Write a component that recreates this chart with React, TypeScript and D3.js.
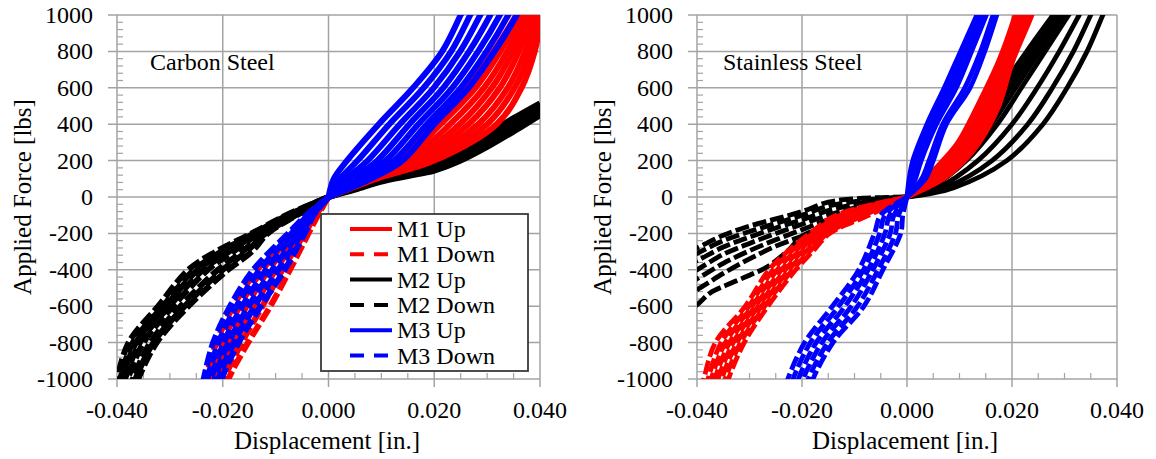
import React from "react";
import * as d3 from "d3";

type Pt = [number, number];

/* ---------- Carbon Steel (left) : [displacement in., force lbs] ---------- */
const CS_M1_UP: Pt[][] = [
  [[0, 0], [0.006, 100], [0.013, 200], [0.0195, 400], [0.0262, 600], [0.0312, 800], [0.0355, 1000], [0.0365, 1060]],
  [[0, 0], [0.0064, 100], [0.014, 200], [0.0212, 400], [0.0278, 600], [0.0325, 800], [0.0363, 1000], [0.0372, 1060]],
  [[0, 0], [0.0068, 100], [0.015, 200], [0.023, 400], [0.0294, 600], [0.0338, 800], [0.0371, 1000], [0.0379, 1060]],
  [[0, 0], [0.0072, 100], [0.0158, 200], [0.0248, 400], [0.0309, 600], [0.0349, 800], [0.0379, 1000], [0.0386, 1060]],
  [[0, 0], [0.0076, 100], [0.0167, 200], [0.0265, 400], [0.0324, 600], [0.036, 800], [0.0386, 1000], [0.0392, 1060]],
  [[0, 0], [0.008, 100], [0.0177, 200], [0.0283, 400], [0.0339, 600], [0.0372, 800], [0.0393, 1000], [0.0398, 1060]],
  [[0, 0], [0.0085, 100], [0.0188, 200], [0.03, 400], [0.0352, 600], [0.0382, 800], [0.0399, 1000], [0.0404, 1060]],
  [[0, 0], [0.009, 100], [0.02, 200], [0.0318, 400], [0.0365, 600], [0.039, 800], [0.0403, 1000], [0.0408, 1060]],
];
const CS_M1_DOWN: Pt[][] = [
  [[0, 0], [-0.004, -100], [-0.0072, -200], [-0.0135, -400], [-0.018, -600], [-0.0212, -800], [-0.0232, -1000], [-0.0236, -1060]],
  [[0, 0], [-0.0036, -100], [-0.0066, -200], [-0.0125, -400], [-0.0168, -600], [-0.02, -800], [-0.0223, -1000], [-0.0227, -1060]],
  [[0, 0], [-0.0032, -100], [-0.0059, -200], [-0.0113, -400], [-0.0155, -600], [-0.0188, -800], [-0.0214, -1000], [-0.0218, -1060]],
  [[0, 0], [-0.0028, -100], [-0.0052, -200], [-0.01, -400], [-0.014, -600], [-0.0176, -800], [-0.0205, -1000], [-0.0209, -1060]],
  [[0, 0], [-0.0024, -100], [-0.0045, -200], [-0.0087, -400], [-0.0125, -600], [-0.0164, -800], [-0.0197, -1000], [-0.0201, -1060]],
  [[0, 0], [-0.002, -100], [-0.0038, -200], [-0.0073, -400], [-0.011, -600], [-0.0152, -800], [-0.0189, -1000], [-0.0193, -1060]],
];
const CS_M2_UP: Pt[][] = [
  [[0, 0], [0.005, 40], [0.01, 85], [0.015, 115], [0.02, 145], [0.025, 200], [0.03, 275], [0.035, 360], [0.04, 450]],
  [[0, 0], [0.005, 45], [0.01, 92], [0.015, 126], [0.02, 160], [0.025, 215], [0.03, 290], [0.035, 378], [0.04, 466]],
  [[0, 0], [0.005, 50], [0.01, 100], [0.015, 138], [0.02, 176], [0.025, 233], [0.03, 308], [0.035, 398], [0.04, 484]],
  [[0, 0], [0.005, 55], [0.01, 108], [0.015, 150], [0.02, 193], [0.025, 252], [0.03, 326], [0.035, 416], [0.04, 500]],
  [[0, 0], [0.005, 60], [0.01, 118], [0.015, 165], [0.02, 212], [0.025, 272], [0.03, 345], [0.035, 433], [0.04, 515]],
];
const CS_M2_DOWN: Pt[][] = [
  [[0, 0], [-0.008, -100], [-0.0145, -200], [-0.0213, -300], [-0.0265, -400], [-0.0322, -600], [-0.0378, -800], [-0.04, -1000], [-0.0405, -1050]],
  [[0, 0], [-0.0077, -100], [-0.0141, -200], [-0.0203, -300], [-0.0254, -400], [-0.0313, -600], [-0.037, -800], [-0.0394, -1000], [-0.04, -1050]],
  [[0, 0], [-0.0075, -100], [-0.0138, -200], [-0.0197, -300], [-0.0247, -400], [-0.0308, -600], [-0.0364, -800], [-0.039, -1000], [-0.0396, -1050]],
  [[0, 0], [-0.0072, -100], [-0.0134, -200], [-0.0188, -300], [-0.0237, -400], [-0.0301, -600], [-0.0357, -800], [-0.0385, -1000], [-0.0391, -1050]],
  [[0, 0], [-0.007, -100], [-0.0131, -200], [-0.018, -300], [-0.0228, -400], [-0.0294, -600], [-0.035, -800], [-0.038, -1000], [-0.0386, -1050]],
  [[0, 0], [-0.0065, -100], [-0.0123, -200], [-0.0163, -300], [-0.0209, -400], [-0.028, -600], [-0.0337, -800], [-0.037, -1000], [-0.0376, -1050]],
  [[0, 0], [-0.0062, -100], [-0.0119, -200], [-0.0155, -300], [-0.02, -400], [-0.0272, -600], [-0.0331, -800], [-0.0365, -1000], [-0.0371, -1050]],
  [[0, 0], [-0.006, -100], [-0.0115, -200], [-0.0145, -300], [-0.019, -400], [-0.0265, -600], [-0.0325, -800], [-0.036, -1000], [-0.0366, -1050]],
];
const CS_M3_UP: Pt[][] = [
  [[0, 0], [0.001, 100], [0.0035, 200], [0.0095, 400], [0.016, 600], [0.0215, 800], [0.025, 1000], [0.026, 1060]],
  [[0, 0], [0.0022, 100], [0.0055, 200], [0.0115, 400], [0.018, 600], [0.0232, 800], [0.0268, 1000], [0.0278, 1060]],
  [[0, 0], [0.0034, 100], [0.0074, 200], [0.0135, 400], [0.0199, 600], [0.0249, 800], [0.0287, 1000], [0.0297, 1060]],
  [[0, 0], [0.0046, 100], [0.0092, 200], [0.0153, 400], [0.0217, 600], [0.0266, 800], [0.0306, 1000], [0.0316, 1060]],
  [[0, 0], [0.0058, 100], [0.0108, 200], [0.017, 400], [0.0234, 600], [0.0283, 800], [0.0324, 1000], [0.0334, 1060]],
  [[0, 0], [0.0069, 100], [0.0124, 200], [0.0186, 400], [0.025, 600], [0.0299, 800], [0.034, 1000], [0.035, 1060]],
  [[0, 0], [0.008, 100], [0.014, 200], [0.02, 400], [0.0265, 600], [0.0314, 800], [0.0356, 1000], [0.0366, 1060]],
];
const CS_M3_DOWN: Pt[][] = [
  [[0, 0], [-0.0042, -100], [-0.0076, -200], [-0.0142, -400], [-0.0186, -600], [-0.0218, -800], [-0.0236, -1000], [-0.024, -1060]],
  [[0, 0], [-0.0039, -100], [-0.007, -200], [-0.013, -400], [-0.0174, -600], [-0.0208, -800], [-0.0229, -1000], [-0.0233, -1060]],
  [[0, 0], [-0.0036, -100], [-0.0064, -200], [-0.0118, -400], [-0.0163, -600], [-0.0198, -800], [-0.0222, -1000], [-0.0226, -1060]],
  [[0, 0], [-0.0033, -100], [-0.0057, -200], [-0.0106, -400], [-0.0151, -600], [-0.0189, -800], [-0.0215, -1000], [-0.0219, -1060]],
  [[0, 0], [-0.003, -100], [-0.0051, -200], [-0.0095, -400], [-0.014, -600], [-0.0179, -800], [-0.0208, -1000], [-0.0212, -1060]],
  [[0, 0], [-0.0028, -100], [-0.0045, -200], [-0.0083, -400], [-0.0128, -600], [-0.017, -800], [-0.0202, -1000], [-0.0206, -1060]],
];

/* ---------- Stainless Steel (right) ---------- */
const SS_M1_UP: Pt[][] = [
  [[0, 0], [0.0035, 100], [0.0068, 200], [0.0097, 300], [0.0134, 500], [0.0175, 750], [0.0206, 1000], [0.0212, 1060]],
  [[0, 0], [0.004, 100], [0.0074, 200], [0.0103, 300], [0.014, 500], [0.0179, 750], [0.0211, 1000], [0.0217, 1060]],
  [[0, 0], [0.0045, 100], [0.008, 200], [0.0109, 300], [0.0146, 500], [0.0183, 750], [0.0215, 1000], [0.0221, 1060]],
  [[0, 0], [0.005, 100], [0.0086, 200], [0.0115, 300], [0.0152, 500], [0.0187, 750], [0.022, 1000], [0.0226, 1060]],
  [[0, 0], [0.0055, 100], [0.0092, 200], [0.0121, 300], [0.0158, 500], [0.0191, 750], [0.0224, 1000], [0.023, 1060]],
  [[0, 0], [0.006, 100], [0.0098, 200], [0.0127, 300], [0.0164, 500], [0.0195, 750], [0.0229, 1000], [0.0235, 1060]],
  [[0, 0], [0.0065, 100], [0.0104, 200], [0.0133, 300], [0.017, 500], [0.0199, 750], [0.0234, 1000], [0.024, 1060]],
  [[0, 0], [0.007, 100], [0.011, 200], [0.0138, 300], [0.0175, 500], [0.0202, 750], [0.0238, 1000], [0.0244, 1060]],
];
const SS_M1_DOWN: Pt[][] = [
  [[0, 0], [-0.0135, -100], [-0.0185, -200], [-0.0228, -300], [-0.0263, -400], [-0.0308, -600], [-0.0365, -800], [-0.0387, -1000], [-0.0392, -1060]],
  [[0, 0], [-0.0127, -100], [-0.0179, -200], [-0.0221, -300], [-0.0255, -400], [-0.0301, -600], [-0.0354, -800], [-0.0379, -1000], [-0.0384, -1060]],
  [[0, 0], [-0.0118, -100], [-0.0173, -200], [-0.0214, -300], [-0.0247, -400], [-0.0295, -600], [-0.0346, -800], [-0.0373, -1000], [-0.0378, -1060]],
  [[0, 0], [-0.011, -100], [-0.0167, -200], [-0.0207, -300], [-0.0239, -400], [-0.0289, -600], [-0.0338, -800], [-0.0366, -1000], [-0.0371, -1060]],
  [[0, 0], [-0.0101, -100], [-0.0161, -200], [-0.02, -300], [-0.0232, -400], [-0.0283, -600], [-0.0331, -800], [-0.036, -1000], [-0.0365, -1060]],
  [[0, 0], [-0.0092, -100], [-0.0156, -200], [-0.0193, -300], [-0.0225, -400], [-0.0277, -600], [-0.0324, -800], [-0.0353, -1000], [-0.0358, -1060]],
  [[0, 0], [-0.0082, -100], [-0.0151, -200], [-0.0186, -300], [-0.0218, -400], [-0.0271, -600], [-0.0317, -800], [-0.0346, -1000], [-0.0351, -1060]],
  [[0, 0], [-0.0072, -100], [-0.0147, -200], [-0.018, -300], [-0.0212, -400], [-0.0265, -600], [-0.031, -800], [-0.034, -1000], [-0.0345, -1060]],
];
const SS_M2_UP: Pt[][] = [
  [[0, 0], [0.0022, 50], [0.0078, 200], [0.0134, 400], [0.018, 600], [0.0228, 800], [0.0278, 1000], [0.0293, 1060]],
  [[0, 0], [0.0027, 50], [0.0086, 200], [0.0142, 400], [0.0188, 600], [0.0236, 800], [0.0284, 1000], [0.0298, 1060]],
  [[0, 0], [0.0032, 50], [0.0094, 200], [0.0151, 400], [0.0197, 600], [0.0244, 800], [0.0291, 1000], [0.0305, 1060]],
  [[0, 0], [0.0038, 50], [0.0103, 200], [0.0161, 400], [0.0207, 600], [0.0253, 800], [0.0299, 1000], [0.0313, 1060]],
  [[0, 0], [0.0045, 50], [0.0113, 200], [0.0172, 400], [0.0218, 600], [0.0263, 800], [0.0308, 1000], [0.0321, 1060]],
  [[0, 0], [0.0058, 50], [0.0135, 200], [0.02, 400], [0.0248, 600], [0.029, 800], [0.0328, 1000], [0.0339, 1060]],
  [[0, 0], [0.0072, 50], [0.0162, 200], [0.023, 400], [0.0277, 600], [0.0317, 800], [0.035, 1000], [0.036, 1060]],
  [[0, 0], [0.0088, 50], [0.019, 200], [0.0259, 400], [0.0305, 600], [0.0343, 800], [0.0373, 1000], [0.0382, 1060]],
];
const SS_M2_DOWN: Pt[][] = [
  [[0, 0], [-0.005, -3], [-0.01, -10], [-0.015, -28], [-0.02, -80], [-0.025, -120], [-0.03, -160], [-0.035, -210], [-0.04, -280], [-0.042, -305]],
  [[0, 0], [-0.005, -8], [-0.01, -25], [-0.015, -50], [-0.02, -100], [-0.025, -145], [-0.03, -190], [-0.035, -240], [-0.04, -310], [-0.042, -335]],
  [[0, 0], [-0.005, -14], [-0.01, -40], [-0.015, -75], [-0.02, -125], [-0.025, -170], [-0.03, -220], [-0.035, -275], [-0.04, -350], [-0.042, -375]],
  [[0, 0], [-0.005, -20], [-0.01, -60], [-0.015, -100], [-0.02, -150], [-0.025, -200], [-0.03, -255], [-0.035, -315], [-0.04, -400], [-0.042, -430]],
  [[0, 0], [-0.005, -27], [-0.01, -80], [-0.015, -125], [-0.02, -180], [-0.025, -235], [-0.03, -295], [-0.035, -365], [-0.04, -450], [-0.042, -480]],
  [[0, 0], [-0.005, -33], [-0.01, -105], [-0.015, -160], [-0.02, -215], [-0.025, -270], [-0.03, -340], [-0.035, -420], [-0.04, -510], [-0.042, -540]],
  [[0, 0], [-0.0057, -35], [-0.0114, -110], [-0.016, -165], [-0.02, -215], [-0.0225, -290], [-0.0267, -385], [-0.03, -430], [-0.0343, -483], [-0.0375, -527], [-0.04, -593], [-0.042, -625]],
];
const SS_M3_UP: Pt[][] = [
  [[0, 0], [0.0004, 100], [0.0011, 200], [0.0038, 400], [0.0071, 600], [0.0102, 800], [0.0133, 1000], [0.0142, 1060]],
  [[0, 0], [0.0008, 100], [0.0016, 200], [0.0044, 400], [0.0078, 600], [0.0109, 800], [0.0139, 1000], [0.0148, 1060]],
  [[0, 0], [0.0012, 100], [0.0021, 200], [0.005, 400], [0.0086, 600], [0.0116, 800], [0.0145, 1000], [0.0154, 1060]],
  [[0, 0], [0.0016, 100], [0.0027, 200], [0.0056, 400], [0.0094, 600], [0.0123, 800], [0.0151, 1000], [0.016, 1060]],
  [[0, 0], [0.0028, 100], [0.0042, 200], [0.0068, 400], [0.011, 600], [0.014, 800], [0.0164, 1000], [0.0172, 1060]],
  [[0, 0], [0.0035, 100], [0.005, 200], [0.0075, 400], [0.012, 600], [0.0148, 800], [0.0171, 1000], [0.0178, 1060]],
];
const SS_M3_DOWN: Pt[][] = [
  [[0, 0], [-0.005, -100], [-0.0062, -200], [-0.0092, -400], [-0.0142, -600], [-0.0195, -800], [-0.0227, -1000], [-0.0233, -1060]],
  [[0, 0], [-0.0042, -100], [-0.0052, -200], [-0.0083, -400], [-0.013, -600], [-0.0184, -800], [-0.0217, -1000], [-0.0223, -1060]],
  [[0, 0], [-0.0033, -100], [-0.0042, -200], [-0.0074, -400], [-0.0118, -600], [-0.0173, -800], [-0.0207, -1000], [-0.0213, -1060]],
  [[0, 0], [-0.0025, -100], [-0.0032, -200], [-0.0065, -400], [-0.0106, -600], [-0.0162, -800], [-0.0198, -1000], [-0.0204, -1060]],
  [[0, 0], [-0.0016, -100], [-0.0022, -200], [-0.0055, -400], [-0.0094, -600], [-0.0151, -800], [-0.0188, -1000], [-0.0194, -1060]],
  [[0, 0], [-0.0008, -100], [-0.0012, -200], [-0.0046, -400], [-0.0082, -600], [-0.0141, -800], [-0.0179, -1000], [-0.0185, -1060]],
];

const X_TICKS = [-0.04, -0.02, 0, 0.02, 0.04];
const Y_TICKS = [-1000, -800, -600, -400, -200, 0, 200, 400, 600, 800, 1000];
const LEGEND = ["M1 Up", "M1 Down", "M2 Up", "M2 Down", "M3 Up", "M3 Down"];

const RED = "#ff0000";
const BLUE = "#0000ff";
const BLACK = "#000000";
const GRID = "#a3a3a3";
const FONT = "'Liberation Serif', 'Times New Roman', serif";

const SERIES_STYLE: Record<string, { color: string; dash?: string }> = {
  "M1 Up": { color: RED },
  "M1 Down": { color: RED, dash: "14 4" },
  "M2 Up": { color: BLACK },
  "M2 Down": { color: BLACK, dash: "14 4" },
  "M3 Up": { color: BLUE },
  "M3 Down": { color: BLUE, dash: "14 4" },
};

// draw order: M2 underneath, then M1, M3 on top
const CS_SERIES: [string, Pt[][]][] = [
  ["M2 Up", CS_M2_UP], ["M2 Down", CS_M2_DOWN],
  ["M1 Up", CS_M1_UP], ["M1 Down", CS_M1_DOWN],
  ["M3 Up", CS_M3_UP], ["M3 Down", CS_M3_DOWN],
];
const SS_SERIES: [string, Pt[][]][] = [
  ["M2 Up", SS_M2_UP], ["M2 Down", SS_M2_DOWN],
  ["M1 Up", SS_M1_UP], ["M1 Down", SS_M1_DOWN],
  ["M3 Up", SS_M3_UP], ["M3 Down", SS_M3_DOWN],
];

const fmtX = (v: number) => (v < 0 ? "-" : "") + Math.abs(v).toFixed(3);

function Panel(props: {
  id: string; left: number; right: number; label: string; labelX: number; titleX: number;
  series: [string, Pt[][]][]; lineW: number; legend?: boolean;
}) {
  const { id, left, right, label, labelX, titleX, series, lineW, legend } = props;
  const top = 15, bottom = 379;
  const x = d3.scaleLinear().domain([-0.04, 0.04]).range([left, right]);
  const y = d3.scaleLinear().domain([-1000, 1000]).range([bottom, top]);
  const line = d3.line<Pt>().x(p => x(p[0])).y(p => y(p[1])).curve(d3.curveCatmullRom.alpha(0.5));

  const xMinor = d3.range(-0.04, 0.0401, 0.005).filter(v => Math.abs(Math.round(v / 0.02) * 0.02 - v) > 1e-6);
  const yMinor = d3.range(-1000, 1001, 40).filter(v => v % 200 !== 0);
  const cy = (top + bottom) / 2;

  return (
    <g>
      <defs>
        <clipPath id={id}>
          <rect x={left} y={top} width={right - left} height={bottom - top} />
        </clipPath>
      </defs>
      {/* grid */}
      {Y_TICKS.map(v => (
        <line key={"gy" + v} x1={left - 9} x2={right} y1={y(v)} y2={y(v)} stroke={GRID} strokeWidth={1.5} />
      ))}
      {X_TICKS.map(v => (
        <line key={"gx" + v} x1={x(v)} x2={x(v)} y1={top} y2={bottom + 8} stroke={GRID} strokeWidth={1.5} />
      ))}
      {xMinor.map(v => (
        <line key={"mx" + v} x1={x(v)} x2={x(v)} y1={bottom - 6} y2={bottom} stroke={GRID} strokeWidth={1.2} />
      ))}
      {yMinor.map(v => (
        <line key={"my" + v} x1={left} x2={left + 6} y1={y(v)} y2={y(v)} stroke={GRID} strokeWidth={1.2} />
      ))}
      {/* tick labels */}
      {Y_TICKS.map(v => (
        <text key={"ty" + v} x={left - 24} y={y(v) + 8} textAnchor="end" fontFamily={FONT} fontSize={24} fill="#000">{v}</text>
      ))}
      {X_TICKS.map(v => (
        <text key={"tx" + v} x={x(v)} y={418} textAnchor="middle" fontFamily={FONT} fontSize={24} fill="#000">{fmtX(v)}</text>
      ))}
      {/* curves */}
      <g clipPath={`url(#${id})`}>
        {series.map(([name, curves]) =>
          curves.map((c, i) => (
            <path key={name + i} d={line(c) || ""} fill="none" stroke={SERIES_STYLE[name].color} strokeWidth={lineW}
              strokeDasharray={SERIES_STYLE[name].dash} strokeDashoffset={(i * 7) % 18} strokeLinejoin="round" />
          ))
        )}
      </g>
      {/* titles */}
      <text x={labelX} y={70} fontFamily={FONT} fontSize={24} fill="#000">{label}</text>
      <text x={titleX} y={449} textAnchor="middle" fontFamily={FONT} fontSize={25} fill="#000">Displacement [in.]</text>
      <text transform={`translate(${left - 86},${cy}) rotate(-90)`} textAnchor="middle" fontFamily={FONT} fontSize={25} fill="#000">Applied Force [lbs]</text>
      {legend && (
        <g>
          <rect x={321} y={214} width={207} height={157} fill="#fff" stroke="#3a3a3a" strokeWidth={1.8} />
          {LEGEND.map((name, i) => {
            const ly = 229 + i * 25.3;
            const st = SERIES_STYLE[name];
            return (
              <g key={name}>
                <line x1={350} x2={392} y1={ly} y2={ly} stroke={st.color} strokeWidth={4} strokeDasharray={st.dash ? "14 10" : undefined} />
                <text x={397} y={ly + 8} fontFamily={FONT} fontSize={24} fill="#000">{name}</text>
              </g>
            );
          })}
        </g>
      )}
    </g>
  );
}

export default function App() {
  return (
    <svg width={1156} height={459} style={{ position: "absolute", left: 0, top: 0, background: "#fff" }}>
      <rect width={1156} height={459} fill="#fff" />
      <Panel id="clipCS" left={117} right={540} label="Carbon Steel" labelX={150} titleX={327} series={CS_SERIES} lineW={6} legend />
      <Panel id="clipSS" left={697} right={1117} label="Stainless Steel" labelX={723} titleX={905} series={SS_SERIES} lineW={4.8} />
    </svg>
  );
}
